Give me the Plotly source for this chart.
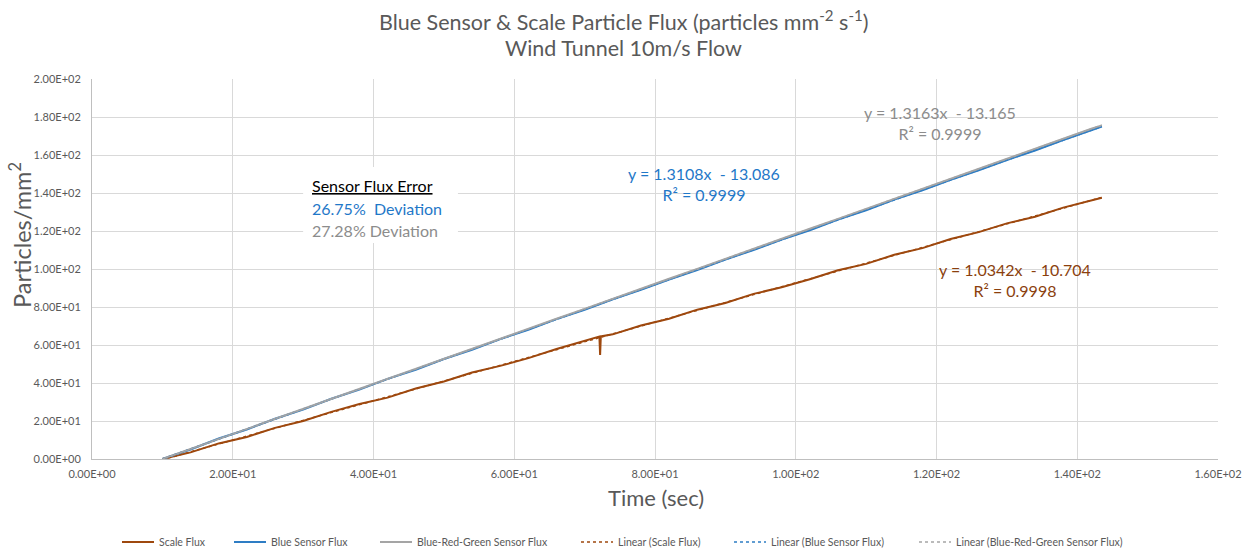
import plotly.graph_objects as go

# ---------------- data ----------------
scale_x = [10, 14, 18, 22, 26, 30, 34, 38, 42, 46, 50, 54, 58, 62, 66, 70, 72.1, 72.2, 72.3,
           74, 78, 82, 86, 90, 94, 98, 102, 106, 110, 114, 118, 122, 126, 130, 134, 138, 142, 143.5]
scale_y = [0.0, 3.5, 8.2, 11.6, 16.4, 20.0, 24.8, 28.9, 32.3, 37.1, 40.8, 45.5, 49.0, 53.1, 57.9, 62.0, 64.4, 54.7, 64.5,
           65.6, 70.3, 73.8, 78.6, 82.1, 86.9, 90.4, 94.6, 99.3, 102.7, 107.5, 111.0, 115.8, 119.4, 124.0, 127.5, 132.3, 136.0, 137.5]

sensor_x = [10, 14, 18, 22, 26, 30, 34, 38, 42, 46, 50, 54, 58, 62, 66, 70, 74, 78, 82, 86,
            90, 94, 98, 102, 106, 110, 114, 118, 122, 126, 130, 134, 138, 142, 143.5]
blue_y = [0.0, 5.0, 10.8, 15.5, 21.2, 26.0, 31.7, 36.5, 42.2, 47.0, 52.6, 57.5, 63.1, 68.0, 73.6, 78.5, 84.1, 89.0, 94.5, 99.4,
          105.0, 110.0, 115.5, 120.4, 126.0, 130.9, 136.5, 141.4, 147.0, 151.9, 157.4, 162.4, 167.9, 172.9, 175.0]
brg_y = [0.0, 5.3, 10.6, 15.9, 21.0, 26.5, 31.6, 37.0, 42.1, 47.5, 52.7, 57.9, 63.3, 68.5, 73.8, 79.0, 84.4, 89.5, 94.9, 100.0,
         105.4, 110.6, 115.9, 121.2, 126.4, 131.7, 136.9, 142.2, 147.5, 152.7, 158.0, 163.2, 168.6, 173.8, 175.6]

# trend line coefficients (as printed on the chart)
fit_scale = (1.0342, -10.704)
fit_blue = (1.3108, -13.086)
fit_brg = (1.3163, -13.165)
r2_scale, r2_blue, r2_brg = "0.9998", "0.9999", "0.9999"

x_ticks = [0, 20, 40, 60, 80, 100, 120, 140, 160]
x_ticklabels = ["0.00E+00", "2.00E+01", "4.00E+01", "6.00E+01", "8.00E+01",
                "1.00E+02", "1.20E+02", "1.40E+02", "1.60E+02"]
y_ticks = [0, 20, 40, 60, 80, 100, 120, 140, 160, 180, 200]
y_ticklabels = ["0.00E+00", "2.00E+01", "4.00E+01", "6.00E+01", "8.00E+01", "1.00E+02",
                "1.20E+02", "1.40E+02", "1.60E+02", "1.80E+02", "2.00E+02"]

# ---------------- styling ----------------
BROWN = "#9E480E"
BROWN_TXT = "#8B3F0E"
BLUE = "#2E7DC4"
BLUE_TXT = "#1F78C8"
GRAY = "#A5A5A5"
GRAY_TXT = "#8C8C8C"
TXT = "#595959"
FONT = "Lato"

L, R, T, B = 92, 30, 79, 91
W, H = 1248, 550
PW, PH = W - L - R, H - T - B


def px_x(p):
    return (p - L) / PW


def px_y(p):
    return (H - B - p) / PH


def fit_line(xs, coef):
    a, b = coef
    xe = [xs[0], xs[-1]]
    return xe, [a * v + b for v in xe]


# legend text start positions (pixels) of the reference
legend_text_px = [158, 270, 416, 617, 770, 955]

fig = go.Figure()
series = [
    (scale_x, scale_y, "Scale Flux", BROWN),
    (sensor_x, blue_y, "Blue Sensor Flux", BLUE),
    (sensor_x, brg_y, "Blue-Red-Green Sensor Flux", GRAY),
]
for i, (xs, ys, nm, col) in enumerate(series):
    fig.add_trace(go.Scatter(x=xs, y=ys, mode="lines", name=nm,
                             line=dict(color=col, width=2),
                             legend="legend" if i == 0 else f"legend{i + 1}"))

fits = [(scale_x, fit_scale, BROWN, "Linear (Scale Flux)"),
        (sensor_x, fit_blue, BLUE, "Linear (Blue Sensor Flux)"),
        (sensor_x, fit_brg, GRAY, "Linear (Blue-Red-Green Sensor Flux)")]
for j, (xs, coef, col, nm) in enumerate(fits):
    fx, fy = fit_line(xs, coef)
    fig.add_trace(go.Scatter(x=fx, y=fy, mode="lines", name=nm,
                             line=dict(color=col, width=1.5, dash="dot"),
                             legend=f"legend{j + 4}"))


def eq_text(coef, r2):
    a, b = coef
    sign = "-" if b < 0 else "+"
    return f"y = {a:.4f}x  {sign} {abs(b):.3f}<br>R² = {r2}"


annos = [
    dict(x=120.5, y=176.8, text=eq_text(fit_brg, r2_brg), color=GRAY_TXT),
    dict(x=87.0, y=144.7, text=eq_text(fit_blue, r2_blue), color=BLUE_TXT),
    dict(x=131.2, y=94.0, text=eq_text(fit_scale, r2_scale), color=BROWN_TXT),
]
for a in annos:
    fig.add_annotation(x=a["x"], y=a["y"], text=a["text"], showarrow=False,
                       font=dict(family=FONT, size=16, color=a["color"]), align="center")

# Sensor flux error box
fig.add_shape(type="rect", x0=30.0, x1=52.0, y0=113.7, y1=153.7,
              fillcolor="white", line=dict(width=0), layer="between")
fig.add_annotation(x=31.0, y=144.2, xanchor="left", text="<u>Sensor Flux Error</u>", showarrow=False,
                   font=dict(family=FONT, size=16, color="#000000"))
fig.add_annotation(x=31.0, y=132.1, xanchor="left", text="26.75%  Deviation", showarrow=False,
                   font=dict(family=FONT, size=16, color=BLUE_TXT))
fig.add_annotation(x=31.0, y=120.5, xanchor="left", text="27.28% Deviation", showarrow=False,
                   font=dict(family=FONT, size=16, color=GRAY_TXT))

# title lines
fig.add_annotation(xref="paper", yref="paper", x=px_x(623), y=px_y(21), showarrow=False,
                   text="Blue Sensor & Scale Particle Flux (particles mm<sup>-2</sup> s<sup>-1</sup>)",
                   font=dict(family=FONT, size=21.5, color=TXT), xanchor="center", yanchor="middle")
fig.add_annotation(xref="paper", yref="paper", x=px_x(623), y=px_y(48), showarrow=False,
                   text="Wind Tunnel 10m/s Flow",
                   font=dict(family=FONT, size=21.5, color=TXT), xanchor="center", yanchor="middle")
# axis titles
fig.add_annotation(xref="paper", yref="paper", x=px_x(20), y=px_y(235), showarrow=False,
                   text="Particles/mm<sup>2</sup>", textangle=-90,
                   font=dict(family=FONT, size=23.5, color=TXT), xanchor="center", yanchor="middle")
fig.add_annotation(xref="paper", yref="paper", x=px_x(656), y=px_y(497), showarrow=False,
                   text="Time (sec)",
                   font=dict(family=FONT, size=22, color=TXT), xanchor="center", yanchor="middle")

layout_legends = {}
for k, tp in enumerate(legend_text_px):
    key = "legend" if k == 0 else f"legend{k + 1}"
    layout_legends[key] = dict(orientation="h", x=px_x(tp - 41), xanchor="left",
                               y=px_y(542), yanchor="middle", bgcolor="rgba(0,0,0,0)",
                               font=dict(family=FONT, size=10.5, color=TXT), itemwidth=32)

fig.update_layout(
    width=W, height=H,
    margin=dict(l=L, r=R, t=T, b=B, autoexpand=False),
    paper_bgcolor="white", plot_bgcolor="white",
    font=dict(family=FONT, color=TXT),
    showlegend=True,
    **layout_legends,
)
fig.update_xaxes(range=[0, 160], tickvals=x_ticks, ticktext=x_ticklabels,
                 showgrid=True, gridcolor="#D9D9D9", gridwidth=1,
                 showline=True, linecolor="#BFBFBF", linewidth=1, zeroline=False,
                 ticks="outside", ticklen=5, tickcolor="rgba(0,0,0,0)",
                 tickfont=dict(family=FONT, size=11, color=TXT), automargin=False)
fig.update_yaxes(range=[0, 200], tickvals=y_ticks, ticktext=y_ticklabels,
                 showgrid=True, gridcolor="#D9D9D9", gridwidth=1,
                 showline=True, linecolor="#BFBFBF", linewidth=1, zeroline=False,
                 ticks="outside", ticklen=8, tickcolor="rgba(0,0,0,0)",
                 tickfont=dict(family=FONT, size=11, color=TXT), automargin=False)

fig.write_html("out.html")
